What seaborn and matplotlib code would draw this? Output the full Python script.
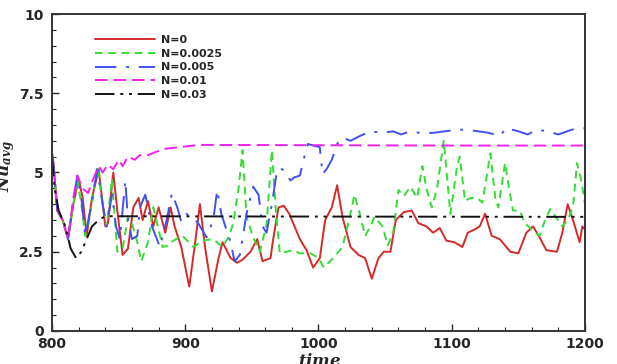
import numpy as np
import pandas as pd
import matplotlib
matplotlib.use("Agg")
import matplotlib.pyplot as plt
import seaborn as sns
from matplotlib.ticker import MultipleLocator

# Data
t_n0 = [800, 801, 804, 808, 812, 816, 820, 823, 826, 830, 835, 840, 842, 846, 849, 853,
        857, 861, 865, 868, 872, 876, 880, 885, 889, 892, 897, 903, 907, 911, 915, 920,
        925, 928, 934, 939, 943, 949, 954, 958, 964, 966, 970, 974, 978, 981, 986, 991,
        996, 1001, 1005, 1010, 1014, 1018, 1024, 1030, 1035, 1040, 1045, 1049, 1054, 1058,
        1064, 1070, 1075, 1081, 1086, 1091, 1096, 1102, 1108, 1112, 1117, 1121, 1125, 1130,
        1136, 1144, 1150, 1156, 1161, 1166, 1171, 1179, 1183, 1187, 1191, 1196, 1198, 1200]
nu_n0 = [5.6, 5.3, 3.8, 3.5, 2.9, 4.0, 4.8, 4.2, 3.0, 4.2, 5.1, 3.3, 3.4, 5.0, 3.8, 2.4,
         2.6, 3.9, 4.2, 3.5, 4.1, 3.3, 3.9, 3.1, 3.9, 3.3, 2.65, 1.4, 2.65, 4.0, 2.6, 1.25,
         2.3, 2.8, 2.3, 2.15, 2.25, 2.5, 2.9, 2.2, 2.3, 2.9, 3.9, 3.95, 3.7, 3.4, 2.9, 2.55,
         2.0, 2.3, 3.5, 3.9, 4.6, 3.6, 2.65, 2.4, 2.3, 1.65, 2.3, 2.5, 2.5, 3.5,
         3.75, 3.8, 3.4, 3.3, 3.1, 3.25, 2.85, 2.8, 2.65, 3.1, 3.2, 3.3, 3.7, 3.0,
         2.9, 2.5, 2.45, 3.1, 3.3, 2.95, 2.55, 2.5, 3.1, 4.0, 3.5, 2.8, 3.3, 3.2]

t_n0025 = [800, 801, 804, 808, 812, 816, 819, 822, 825, 830, 834, 838, 841, 845, 849, 853,
           857, 860, 864, 867, 872, 876, 880, 883, 887, 891, 898, 906, 913, 921, 928, 933,
           936, 940, 943, 946, 951, 956, 961, 965, 968, 971, 976, 981, 986, 994, 1000, 1004,
           1011, 1018, 1024, 1027, 1031, 1035, 1039, 1042, 1048, 1052, 1056, 1060, 1064, 1069,
           1074, 1078, 1081, 1085, 1089, 1094, 1099, 1104, 1106, 1110, 1114, 1119, 1123, 1129,
           1133, 1135, 1140, 1143, 1146, 1151, 1155, 1160, 1166, 1170, 1174, 1178, 1183, 1187,
           1191, 1194, 1196, 1199, 1200]
nu_n0025 = [5.5, 5.2, 3.8, 3.5, 2.9, 4.0, 4.8, 4.0, 3.0, 4.0, 5.2, 4.0, 3.3, 4.8, 2.5, 2.6,
            3.6, 3.4, 2.8, 2.2, 2.8, 3.9, 3.2, 2.65, 2.7, 2.85, 3.0, 2.65, 2.85, 2.9, 2.65, 3.0,
            3.4, 4.5, 5.7, 3.6, 2.95, 2.5, 3.35, 5.7, 3.8, 2.45, 2.5, 2.55, 2.45, 2.45, 2.3, 2.0,
            2.3, 2.65, 3.7, 4.3, 3.7, 3.0, 3.3, 3.6, 3.3, 2.7, 3.1, 4.45, 4.25, 4.55,
            4.2, 5.2, 4.5, 3.9, 4.5, 6.0, 3.7, 5.2, 5.5, 4.1, 4.2, 4.2, 4.05, 5.6,
            4.1, 3.9, 5.3, 4.5, 3.8, 3.8, 3.4, 3.2, 3.0, 3.5, 3.85, 3.6, 3.3, 3.5,
            3.9, 5.3, 5.0, 4.3, 4.0]

t_n005 = [800, 801, 804, 808, 812, 816, 819, 822, 825, 830, 834, 838, 841, 845, 848, 851,
          855, 857, 860, 864, 866, 870, 875, 881, 886, 890, 894, 897, 901, 905, 909, 916,
          921, 924, 927, 934, 937, 941, 946, 951, 955, 958, 961, 965, 969, 973, 979, 982,
          986, 990, 992, 996, 1001, 1003, 1006, 1010, 1014, 1018, 1024, 1031, 1039, 1048,
          1056, 1062, 1069, 1076, 1086, 1095, 1104, 1111, 1120, 1128, 1136, 1141, 1150, 1157,
          1164, 1172, 1180, 1190, 1200]
nu_n005 = [5.6, 5.3, 3.8, 3.5, 2.9, 4.1, 4.9, 4.2, 3.0, 4.1, 5.1, 4.0, 3.3, 4.3, 3.3, 2.9,
           4.75, 3.5, 2.9, 3.0, 3.9, 4.3, 3.3, 2.65, 3.5, 4.35, 3.9, 3.45, 3.7, 3.5, 3.45, 2.95,
           3.5, 4.45, 3.7, 2.8, 2.2, 2.4, 3.7, 4.55, 4.3, 3.3, 3.1, 4.0, 5.1, 5.1, 4.75, 4.85,
           4.9, 5.6, 5.9, 5.85, 5.8, 4.95, 5.1, 5.4, 5.9, 6.1, 6.0, 6.15, 6.3, 6.25,
           6.3, 6.2, 6.3, 6.25, 6.25, 6.3, 6.35, 6.35, 6.3, 6.25, 6.15, 6.4, 6.3, 6.2,
           6.35, 6.3, 6.2, 6.35, 6.4]

t_n01 = [800, 801, 804, 808, 812, 816, 819, 823, 827, 831, 835, 838, 842, 846, 850, 853,
         857, 862, 866, 872, 878, 885, 892, 900, 910, 920, 1000, 1100, 1200]
nu_n01 = [5.6, 5.3, 3.8, 3.5, 2.9, 4.2, 4.9, 4.5, 4.35, 4.8, 5.2, 5.0, 5.25, 5.1, 5.4, 5.2,
          5.5, 5.4, 5.55, 5.55, 5.65, 5.75, 5.78, 5.82, 5.87, 5.87, 5.86, 5.85, 5.85]

t_n03 = [800, 802, 805, 810, 814, 818, 822, 826, 830, 835, 840, 850, 1000, 1200]
nu_n03 = [5.5, 4.5, 3.8, 3.3, 2.6, 2.3, 2.5, 2.9, 3.3, 3.5, 3.62, 3.62, 3.61, 3.6]

labels = ["N=0", "N=0.0025", "N=0.005", "N=0.01", "N=0.03"]
times = [t_n0, t_n0025, t_n005, t_n01, t_n03]
values = [nu_n0, nu_n0025, nu_n005, nu_n01, nu_n03]
colors = ["#d42a2a", "#33dd33", "#4150f0", "#ee22ee", "#111111"]
styles = ["-", (0, (4, 2.8)), (0, (11, 5, 1.5, 5)), (0, (6.5, 3)),
          (0, (10, 3, 1.5, 3, 1.5, 3))]

df = pd.concat([pd.DataFrame({"time": t, "Nu": v, "case": lab})
                for t, v, lab in zip(times, values, labels)], ignore_index=True)

sns.set_style("ticks", {"xtick.direction": "in", "ytick.direction": "in"})
plt.rcParams["font.family"] = ["DejaVu Sans"]
plt.rcParams["font.weight"] = "bold"
plt.rcParams["mathtext.fontset"] = "custom"
plt.rcParams["mathtext.it"] = "DejaVu Serif:italic:bold"
plt.rcParams["mathtext.rm"] = "DejaVu Serif:bold"

fig = plt.figure(figsize=(6.17, 3.64), dpi=100)
ax = fig.add_axes([0.0843, 0.0907, 0.8638, 0.8708])

for lab, col, ls in zip(labels, colors, styles):
    sub = df[df["case"] == lab]
    sns.lineplot(data=sub, x="time", y="Nu", ax=ax, color=col, label=lab,
                 linewidth=1.4, linestyle=ls, estimator=None, sort=False)

ax.set_xlim(800, 1200)
ax.set_ylim(0, 10)
ax.xaxis.set_major_locator(MultipleLocator(100))
ax.xaxis.set_minor_locator(MultipleLocator(20))
ax.yaxis.set_minor_locator(MultipleLocator(0.5))
ax.set_yticks([0, 2.5, 5, 7.5, 10])
ax.set_yticklabels(["0", "2.5", "5", "7.5", "10"])

ax.tick_params(which="major", length=5, width=1.0, labelsize=10, pad=4,
               top=False, right=False)
ax.tick_params(axis="y", which="major", pad=6)
ax.tick_params(which="minor", length=3, width=0.8, top=False, right=False)
for lab in ax.get_xticklabels() + ax.get_yticklabels():
    lab.set_fontweight("bold")
for sp in ax.spines.values():
    sp.set_color("#333333")
    sp.set_linewidth(1.4)

ax.set_xlabel(r"$time$", fontsize=12)
ax.set_ylabel(r"$Nu_{avg}$", fontsize=12)
ax.xaxis.set_label_coords(0.503, -0.066)
ax.yaxis.set_label_coords(-0.066, 0.52)

leg = ax.legend(loc="upper left", bbox_to_anchor=(0.08, 0.935), frameon=False,
                fontsize=8, handlelength=5.4, handletextpad=0.6,
                labelspacing=0.35, borderpad=0, borderaxespad=0)
for txt in leg.get_texts():
    txt.set_fontweight("bold")

fig.savefig("out.png", dpi=100)
